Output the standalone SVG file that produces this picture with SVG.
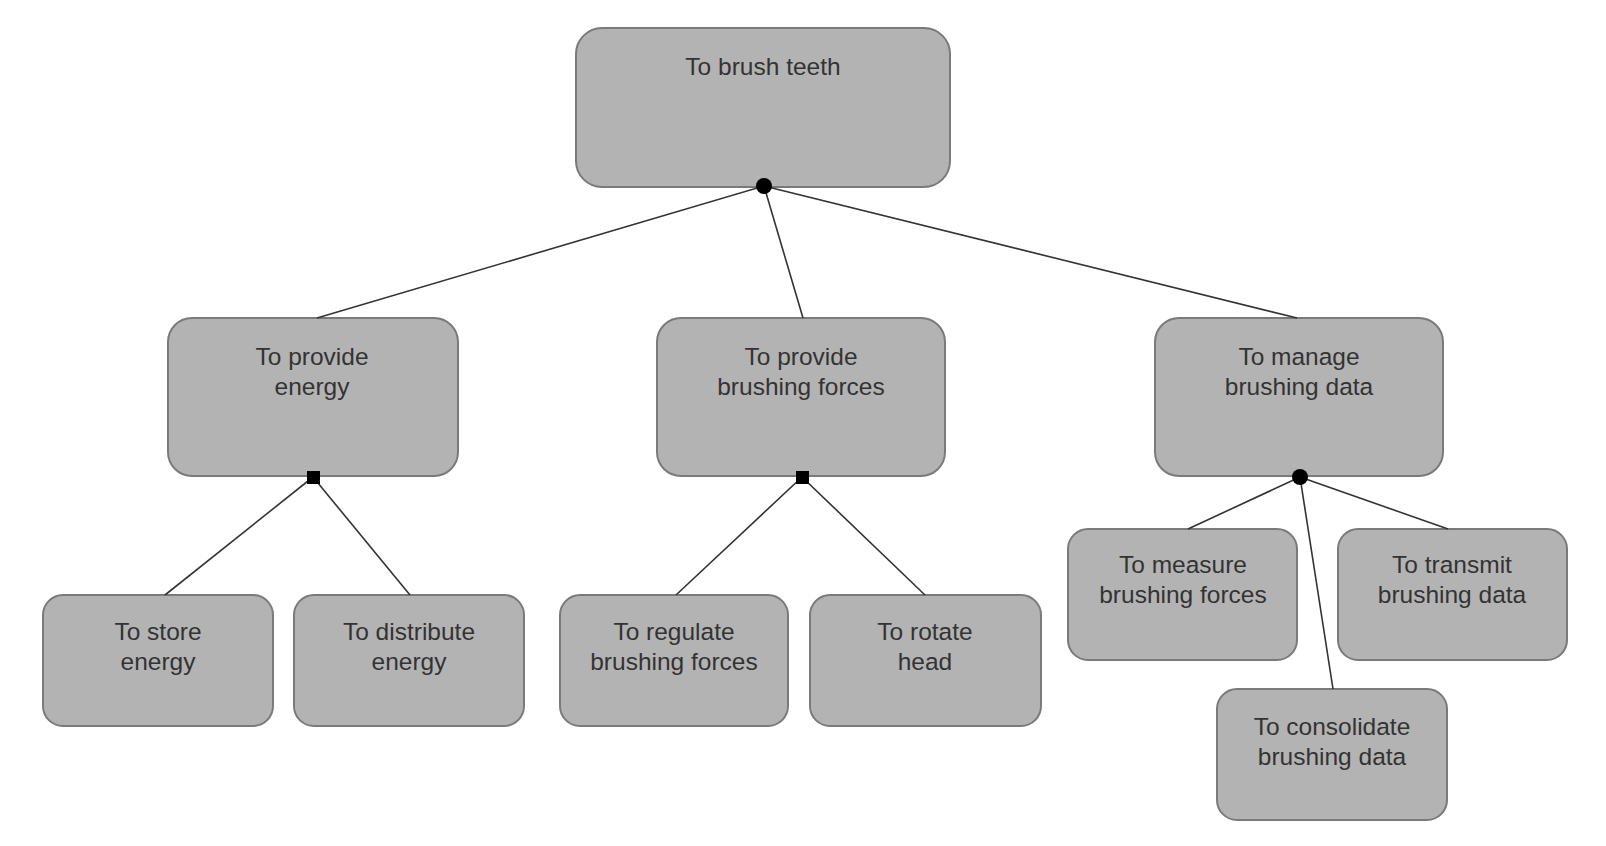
<svg xmlns="http://www.w3.org/2000/svg" width="1606" height="846" viewBox="0 0 1606 846">
<style>
.box{fill:#b3b3b3;stroke:#7a7a7a;stroke-width:2}
.t{font-family:"Liberation Sans",Arial,sans-serif;font-size:24.5px;fill:#333;text-anchor:middle}
.c{stroke:#333;stroke-width:1.6;fill:none}
</style>
<rect width="1606" height="846" fill="#fff"/>
<g id="n-brush">
<rect class="box" x="576" y="28" width="374" height="159" rx="26"/>
<text class="t" x="763" y="75">To brush teeth</text>
</g>
<g id="n-energy">
<rect class="box" x="168" y="318" width="290" height="158" rx="24"/>
<text class="t" x="312" y="365">To provide</text>
<text class="t" x="312" y="395">energy</text>
</g>
<g id="n-forces">
<rect class="box" x="657" y="318" width="288" height="158" rx="24"/>
<text class="t" x="801" y="365">To provide</text>
<text class="t" x="801" y="395">brushing forces</text>
</g>
<g id="n-manage">
<rect class="box" x="1155" y="318" width="288" height="158" rx="24"/>
<text class="t" x="1299" y="365">To manage</text>
<text class="t" x="1299" y="395">brushing data</text>
</g>
<g id="n-store">
<rect class="box" x="43" y="595" width="230" height="131" rx="20"/>
<text class="t" x="158" y="640">To store</text>
<text class="t" x="158" y="670">energy</text>
</g>
<g id="n-distribute">
<rect class="box" x="294" y="595" width="230" height="131" rx="20"/>
<text class="t" x="409" y="640">To distribute</text>
<text class="t" x="409" y="670">energy</text>
</g>
<g id="n-regulate">
<rect class="box" x="560" y="595" width="228" height="131" rx="20"/>
<text class="t" x="674" y="640">To regulate</text>
<text class="t" x="674" y="670">brushing forces</text>
</g>
<g id="n-rotate">
<rect class="box" x="810" y="595" width="231" height="131" rx="20"/>
<text class="t" x="925" y="640">To rotate</text>
<text class="t" x="925" y="670">head</text>
</g>
<g id="n-measure">
<rect class="box" x="1068" y="529" width="229" height="131" rx="20"/>
<text class="t" x="1183" y="573">To measure</text>
<text class="t" x="1183" y="603">brushing forces</text>
</g>
<g id="n-transmit">
<rect class="box" x="1338" y="529" width="229" height="131" rx="20"/>
<text class="t" x="1452" y="573">To transmit</text>
<text class="t" x="1452" y="603">brushing data</text>
</g>
<g id="n-consolidate">
<rect class="box" x="1217" y="689" width="230" height="131" rx="20"/>
<text class="t" x="1332" y="735">To consolidate</text>
<text class="t" x="1332" y="765">brushing data</text>
</g>
<g id="connectors">
<line class="c" x1="764" y1="186" x2="317" y2="318"/>
<line class="c" x1="764" y1="186" x2="803" y2="318"/>
<line class="c" x1="764" y1="186" x2="1297" y2="318"/>
<line class="c" x1="313" y1="477" x2="165" y2="595"/>
<line class="c" x1="313" y1="477" x2="410" y2="595"/>
<line class="c" x1="802" y1="477" x2="676" y2="595"/>
<line class="c" x1="802" y1="477" x2="925" y2="595"/>
<line class="c" x1="1300" y1="477" x2="1188" y2="529"/>
<line class="c" x1="1300" y1="477" x2="1448" y2="529"/>
<line class="c" x1="1300" y1="477" x2="1333" y2="689"/>
<circle cx="764" cy="186" r="8" fill="#000"/>
<rect x="307" y="471" width="13" height="13" fill="#000"/>
<rect x="796" y="471" width="13" height="13" fill="#000"/>
<circle cx="1300" cy="477" r="8" fill="#000"/>
</g>
</svg>
